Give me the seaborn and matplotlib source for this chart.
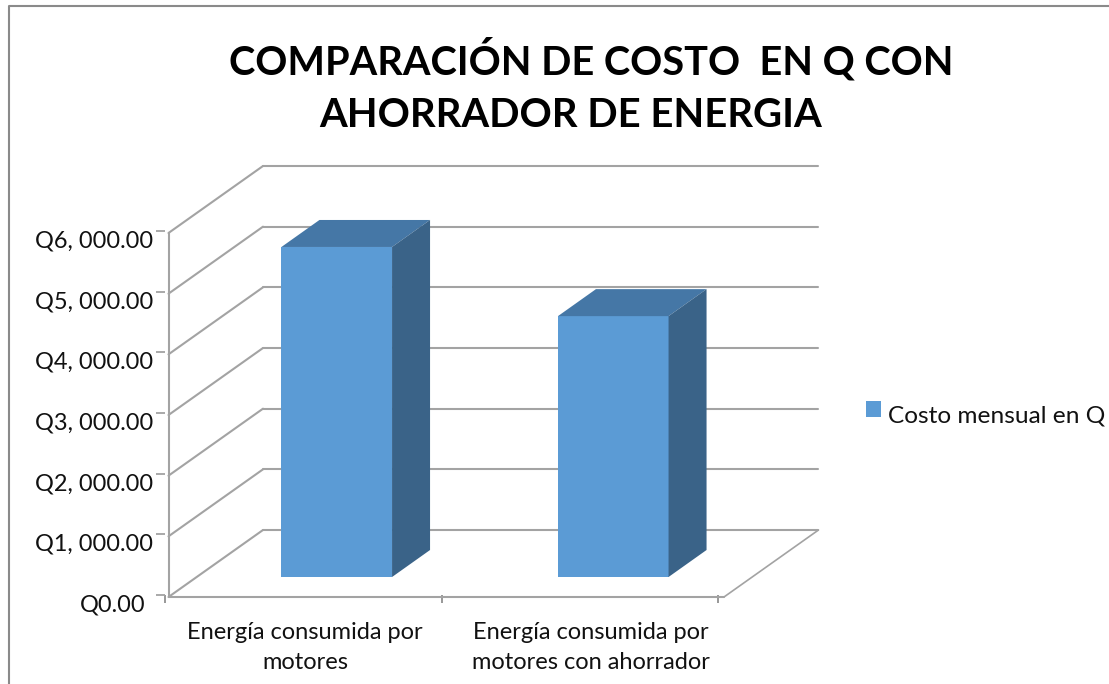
import matplotlib
matplotlib.use("Agg")
import matplotlib.pyplot as plt
import seaborn as sns
from matplotlib.lines import Line2D
from matplotlib.patches import Patch, Polygon
from matplotlib.transforms import Affine2D

categories = ["Energía consumida por\nmotores", "Energía consumida por\nmotores con ahorrador"]
costs = [5440, 4300]
grid_values = [0, 1000, 2000, 3000, 4000, 5000, 6000]
grid_labels = ["Q0.00", "Q1, 000.00", "Q2, 000.00", "Q3, 000.00", "Q4, 000.00", "Q5, 000.00", "Q6, 000.00"]
title_lines = ["COMPARACIÓN DE COSTO  EN Q CON", "AHORRADOR DE ENERGIA"]
series_name = "Costo mensual en Q"

W, H = 1109, 684
FRONT, TOP, SIDE = "#5B9BD5", "#4577A6", "#3A6388"
GREY = "#A3A3A3"

sns.set_theme(style="white")
plt.rcParams["font.family"] = ["Lato", "DejaVu Sans"]

fig = plt.figure(figsize=(W / 100, H / 100), dpi=100, facecolor="white")
ax = fig.add_axes([165 / W, (H - 595) / H, 553 / W, 364 / H])

sns.barplot(x=categories, y=costs, width=0.4, color=FRONT, saturation=1, ax=ax, zorder=5)
ax.set_xlim(-0.5, 1.5)
ax.set_ylim(0, 6000)
for s in ax.spines.values():
    s.set_visible(False)


def shifted(dx, dy):
    # data coords moved by some pixels, for the fake 3d look
    return ax.transData + Affine2D().translate(dx, dy)


# walls and floor
right = 1.509
front_tr = shifted(3.5, -2)
back_tr = shifted(98, 65)
for v in grid_values:
    ax.plot([-0.5, right], [v, v], color=GREY, lw=1.5, transform=back_tr, clip_on=False, zorder=1)
    # diagonal from the front axis to the back wall, in pixels
    p0 = front_tr.transform((-0.5, v))
    p1 = back_tr.transform((-0.5, v))
    ax.add_line(Line2D([p0[0], p1[0]], [p0[1], p1[1]], color=GREY, lw=1.5, transform=None, clip_on=False, zorder=1))
ax.plot([-0.5, -0.5], [0, 6000], color=GREY, lw=1.5, transform=front_tr, clip_on=False, zorder=2)
ax.plot([-0.5, right], [0, 0], color=GREY, lw=1.5, transform=front_tr, clip_on=False, zorder=2)
p0 = front_tr.transform((right, 0))
p1 = back_tr.transform((right, 0))
ax.add_line(Line2D([p0[0], p1[0]], [p0[1], p1[1]], color=GREY, lw=1.2, transform=None, clip_on=False, zorder=2))

# bars: move the front face, then add top and side
bar_dx, bar_dy = 33.5, 18
depth_x, depth_y = 38, 27
bar_tr = shifted(bar_dx, bar_dy)
for bar in ax.patches:
    bar.set_transform(bar_tr)
    bar.set_clip_on(False)
    bar.set_edgecolor("none")
    x0, x1 = bar.get_x(), bar.get_x() + bar.get_width()
    h = bar.get_height()
    a = bar_tr.transform((x0, h))
    b = bar_tr.transform((x1, h))
    c = bar_tr.transform((x1, 0))
    top = [a, b, b + (depth_x, depth_y), a + (depth_x, depth_y)]
    side = [c, b, b + (depth_x, depth_y), c + (depth_x, depth_y)]
    ax.add_patch(Polygon(top, closed=True, facecolor=TOP, edgecolor="none", transform=None, clip_on=False, zorder=5))
    ax.add_patch(Polygon(side, closed=True, facecolor=SIDE, edgecolor="none", transform=None, clip_on=False, zorder=5))

# ticks
ax.set_yticks(grid_values, grid_labels)
ax.set_xticks([-0.5, 0.5, 1.5], ["", "", ""])
ax.set_xticks([0, 1], categories, minor=True)
ax.tick_params(axis="y", which="major", left=True, length=6.5, width=1.3, color=GREY, pad=2,
               labelsize=16.9, labelcolor="#111111")
ax.tick_params(axis="x", which="major", bottom=True, length=6, width=1.3, color="#909090")
ax.tick_params(axis="x", which="minor", bottom=False, length=0, pad=19.5, labelsize=17, labelcolor="#111111")

for lab in ax.get_yticklabels():
    dx = -8 if lab.get_text() == "Q0.00" else 0
    lab.set_transform(lab.get_transform() + Affine2D().translate(dx, -8))
for i, lab in enumerate(ax.get_xticklabels(minor=True)):
    lab.set_linespacing(1.55)
    lab.set_transform(lab.get_transform() + Affine2D().translate(11 if i == 1 else 2, 0))

# the two title lines are not centred on each other in the original
fig.text(591 / W, 1 - 75 / H, title_lines[0], ha="center", va="baseline", fontsize=28.6, fontweight="bold", color="black")
fig.text(570.5 / W, 1 - 127 / H, title_lines[1], ha="center", va="baseline", fontsize=28.8, fontweight="bold", color="black")

leg = ax.legend(handles=[Patch(facecolor=FRONT, edgecolor="none", label=series_name)], frameon=False,
                loc="center left", bbox_to_anchor=(866 / W, 1 - 416 / H), bbox_transform=fig.transFigure,
                fontsize=17.6, handlelength=0.62, handleheight=0.62, handletextpad=0.3, labelcolor="#111111",
                borderpad=0, borderaxespad=0)
# the legend square sits a bit above the text
square = leg.get_patches()[0]
square.set_y(square.get_y() + 3.5)

# outer frame, only top and left show up
fig.add_artist(Line2D([8.5 / W, 8.5 / W, 1], [0, 1 - 6 / H, 1 - 6 / H], color="#8A8A8A", lw=1.5))

fig.savefig("out.png", dpi=100, facecolor="white")
